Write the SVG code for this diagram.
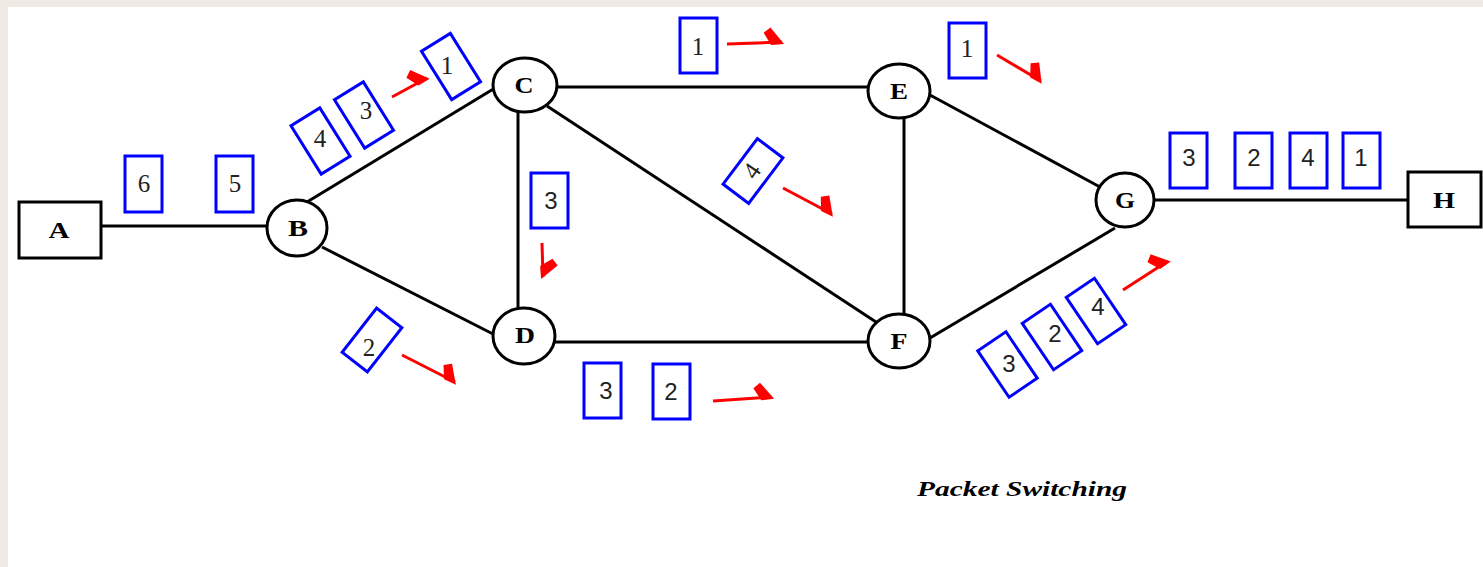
<svg xmlns="http://www.w3.org/2000/svg" width="1483" height="567" viewBox="0 0 1483 567">
  <style>
    .edge { stroke: #000; stroke-width: 3; fill: none; }
    .node { fill: #fff; stroke: #000; stroke-width: 3; }
    .lbl { font-family: "Liberation Serif", "Times New Roman", serif; font-weight: bold; font-size: 24px; text-anchor: middle; fill: #000; }
    .pkt { fill: #fff; stroke: #0000ff; stroke-width: 3; }
    .num { font-family: "Liberation Sans", Arial, sans-serif; font-size: 24px; text-anchor: middle; fill: #222; }
    .nums { font-family: "Liberation Serif", "Times New Roman", serif; font-size: 25px; text-anchor: middle; fill: #222; }
    .arw { stroke: #ff0000; stroke-width: 3; fill: none; marker-end: url(#barb); }
    .title { font-family: "Liberation Serif", "Times New Roman", serif; font-weight: bold; font-style: italic; font-size: 22px; fill: #000; }
  </style>
  <defs>
    <!-- one-sided hooked arrowhead, barb on the left of travel -->
    <marker id="barb" markerUnits="userSpaceOnUse" markerWidth="40" markerHeight="40" refX="0" refY="0" orient="auto" overflow="visible">
      <polygon points="2,2 -11,2.5 -18,-10 -11,-15" fill="#ff0000"/>
    </marker>
  </defs>

  <!-- page background with frame strip -->
  <rect x="0" y="0" width="1483" height="567" fill="#efebe4"/>
  <rect x="8" y="7" width="1475" height="560" fill="#ffffff"/>

  <!-- links -->
  <g id="connectors">
    <line class="edge" x1="101" y1="226" x2="268" y2="226"/>
    <line class="edge" x1="307" y1="202" x2="495" y2="88"/>
    <line class="edge" x1="322" y1="247" x2="495" y2="335"/>
    <line class="edge" x1="518" y1="108" x2="518" y2="310"/>
    <line class="edge" x1="556" y1="87" x2="869" y2="87"/>
    <line class="edge" x1="547" y1="106" x2="876" y2="322"/>
    <line class="edge" x1="904" y1="116" x2="904" y2="316"/>
    <line class="edge" x1="930" y1="95" x2="1100" y2="187"/>
    <line class="edge" x1="554" y1="342" x2="869" y2="342"/>
    <line class="edge" x1="930" y1="338" x2="1115" y2="228"/>
    <line class="edge" x1="1153" y1="200" x2="1409" y2="200"/>
  </g>

  <!-- hosts and routers -->
  <g id="node-A">
    <rect class="node" x="19" y="202" width="82" height="56"/>
    <text class="lbl" x="59" y="238" textLength="21" lengthAdjust="spacingAndGlyphs">A</text>
  </g>
  <g id="node-B">
    <ellipse class="node" cx="297" cy="228" rx="30" ry="28"/>
    <text class="lbl" x="298" y="236" textLength="20" lengthAdjust="spacingAndGlyphs">B</text>
  </g>
  <g id="node-C">
    <ellipse class="node" cx="525" cy="85" rx="32" ry="27"/>
    <text class="lbl" x="524" y="93" textLength="19" lengthAdjust="spacingAndGlyphs">C</text>
  </g>
  <g id="node-D">
    <ellipse class="node" cx="524" cy="336" rx="31" ry="28"/>
    <text class="lbl" x="525" y="343" textLength="20" lengthAdjust="spacingAndGlyphs">D</text>
  </g>
  <g id="node-E">
    <ellipse class="node" cx="899" cy="91" rx="31" ry="27"/>
    <text class="lbl" x="899" y="99" textLength="18" lengthAdjust="spacingAndGlyphs">E</text>
  </g>
  <g id="node-F">
    <ellipse class="node" cx="899" cy="341" rx="31" ry="27"/>
    <text class="lbl" x="899" y="349" textLength="17" lengthAdjust="spacingAndGlyphs">F</text>
  </g>
  <g id="node-G">
    <ellipse class="node" cx="1125" cy="200" rx="29" ry="27"/>
    <text class="lbl" x="1125" y="208" textLength="20" lengthAdjust="spacingAndGlyphs">G</text>
  </g>
  <g id="node-H">
    <rect class="node" x="1408" y="172" width="73" height="55"/>
    <text class="lbl" x="1444" y="208" textLength="22" lengthAdjust="spacingAndGlyphs">H</text>
  </g>

  <!-- packets in flight -->
  <g id="packets">
    <!-- A to B -->
    <rect class="pkt" x="125" y="156" width="37" height="56"/>
    <text class="nums" x="144" y="192" font-size="19">6</text>
    <rect class="pkt" x="216" y="156" width="37" height="56"/>
    <text class="nums" x="235" y="192" font-size="19">5</text>

    <!-- B to C -->
    <g transform="translate(320.5,141) rotate(-32)">
      <rect class="pkt" x="-17" y="-28.5" width="34" height="57"/>
    </g>
    <text class="nums" x="320" y="147">4</text>
    <g transform="translate(364,115) rotate(-32)">
      <rect class="pkt" x="-17" y="-28.5" width="34" height="57"/>
    </g>
    <text class="nums" x="366" y="119">3</text>
    <g transform="translate(451,66.5) rotate(-32)">
      <rect class="pkt" x="-17" y="-28.5" width="34" height="57"/>
    </g>
    <text class="nums" x="447" y="74">1</text>

    <!-- B to D -->
    <g transform="translate(372,340) rotate(38)">
      <rect class="pkt" x="-16" y="-28" width="32" height="56"/>
    </g>
    <text class="nums" x="369" y="356">2</text>

    <!-- C to E -->
    <rect class="pkt" x="680" y="18" width="37" height="55"/>
    <text class="nums" x="698" y="55">1</text>

    <!-- C to D -->
    <rect class="pkt" x="531" y="173" width="37" height="55"/>
    <text class="num" x="551" y="209">3</text>

    <!-- C to F -->
    <g transform="translate(753,171) rotate(37)">
      <rect class="pkt" x="-16" y="-28.5" width="32" height="57"/>
    </g>
    <text class="nums" transform="translate(752,171) rotate(-55)" x="0" y="8">4</text>

    <!-- D to F -->
    <rect class="pkt" x="584" y="363" width="37" height="55"/>
    <text class="num" x="606" y="399">3</text>
    <rect class="pkt" x="653" y="364" width="37" height="55"/>
    <text class="num" x="671" y="400">2</text>

    <!-- E to G -->
    <rect class="pkt" x="949" y="23" width="37" height="55"/>
    <text class="nums" x="967" y="57">1</text>

    <!-- F to G -->
    <g transform="translate(1007.5,364.5) rotate(-34)">
      <rect class="pkt" x="-17" y="-28" width="34" height="56"/>
    </g>
    <text class="num" x="1009" y="372">3</text>
    <g transform="translate(1052,337) rotate(-34)">
      <rect class="pkt" x="-17" y="-28" width="34" height="56"/>
    </g>
    <text class="num" x="1055" y="342">2</text>
    <g transform="translate(1096,311) rotate(-34)">
      <rect class="pkt" x="-17" y="-28" width="34" height="56"/>
    </g>
    <text class="num" x="1098" y="315">4</text>

    <!-- G to H -->
    <rect class="pkt" x="1170" y="133" width="37" height="55"/>
    <text class="num" x="1189" y="166">3</text>
    <rect class="pkt" x="1235" y="133" width="37" height="55"/>
    <text class="num" x="1254" y="166">2</text>
    <rect class="pkt" x="1290" y="133" width="37" height="55"/>
    <text class="num" x="1308" y="166">4</text>
    <rect class="pkt" x="1343" y="133" width="37" height="55"/>
    <text class="num" x="1361" y="166">1</text>
  </g>

  <!-- direction of travel -->
  <g id="arrows">
    <line class="arw" x1="392" y1="97" x2="427" y2="78"/>
    <line class="arw" x1="727" y1="44" x2="782" y2="42"/>
    <line class="arw" x1="402" y1="355" x2="455" y2="382"/>
    <line class="arw" x1="542" y1="243" x2="543" y2="277"/>
    <line class="arw" x1="783" y1="188" x2="832" y2="214"/>
    <line class="arw" x1="713" y1="401" x2="772" y2="397"/>
    <line class="arw" x1="997" y1="55" x2="1041" y2="81"/>
    <line class="arw" x1="1123" y1="290" x2="1168" y2="261"/>
  </g>

  <text class="title" x="917" y="496" textLength="210" lengthAdjust="spacingAndGlyphs">Packet Switching</text>
</svg>
